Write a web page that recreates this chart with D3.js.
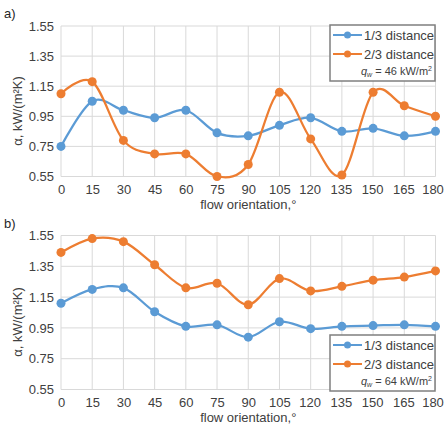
<!DOCTYPE html>
<html>
<head>
<meta charset="utf-8">
<script src="https://cdnjs.cloudflare.com/ajax/libs/d3/7.8.5/d3.min.js"></script>
<style>
  body { margin: 0; background: #fff; }
  svg { font-family: "Liberation Sans", Arial, sans-serif; }
  .grid line { stroke: #d9d9d9; stroke-width: 1; }
  .axis text { fill: #404040; font-size: 13px; }
  .axis path, .axis line { display: none; }
</style>
</head>
<body>
<div id="chart"></div>
<script>
// data
var angles = [0, 15, 30, 45, 60, 75, 90, 105, 120, 135, 150, 165, 180];
var yTicks = [0.55, 0.75, 0.95, 1.15, 1.35, 1.55];

// panel a) q_w = 46 kW/m2
var a13 = [0.75, 1.05, 0.99, 0.94, 0.99, 0.84, 0.82, 0.89, 0.94, 0.85, 0.87, 0.82, 0.85];
var a23 = [1.10, 1.18, 0.79, 0.70, 0.70, 0.55, 0.63, 1.11, 0.80, 0.56, 1.11, 1.02, 0.95];

// panel b) q_w = 64 kW/m2
var b13 = [1.11, 1.20, 1.21, 1.055, 0.96, 0.97, 0.89, 0.99, 0.945, 0.96, 0.965, 0.97, 0.96];
var b23 = [1.44, 1.53, 1.51, 1.36, 1.21, 1.24, 1.10, 1.27, 1.19, 1.22, 1.26, 1.28, 1.32];

var seriesNames = ["1/3 distance", "2/3 distance"];
var colors = ["#5b9bd5", "#ed7d31"];

var W = 445, H = 426;
var svg = d3.select('#chart').append('svg').attr('width', W).attr('height', H);

var scaleX = d3.scaleLinear().domain([0, 180]).range([61, 435.5]);

function panel(opts) {
    var scaleY = d3.scaleLinear().domain([0.55, 1.55]).range([opts.bottom, opts.top]);
    var g = svg.append('g');

    // grid
    var grid = g.append('g').attr('class', 'grid');
    grid.selectAll('.hg').data(yTicks).enter().append('line')
        .attr('x1', scaleX(0)).attr('x2', scaleX(180))
        .attr('y1', function(d) { return scaleY(d); })
        .attr('y2', function(d) { return scaleY(d); });
    grid.selectAll('.vg').data(angles).enter().append('line')
        .attr('y1', scaleY(0.55)).attr('y2', scaleY(1.55))
        .attr('x1', function(d) { return scaleX(d); })
        .attr('x2', function(d) { return scaleX(d); });

    // axes (labels only)
    var axisY = d3.axisLeft(scaleY).tickValues(yTicks).tickFormat(d3.format('.2f')).tickSize(0).tickPadding(7);
    g.append('g').attr('class', 'axis').attr('transform', 'translate(' + scaleX(0) + ',0)').call(axisY);
    var axisX = d3.axisBottom(scaleX).tickValues(angles).tickFormat(d3.format('d')).tickSize(0).tickPadding(8);
    var gx = g.append('g').attr('class', 'axis').attr('transform', 'translate(0,' + scaleY(0.55) + ')').call(axisX);
    // Excel squeezes the last label a little inside the edge
    gx.selectAll('text').attr('dx', function(d) { return d === 180 ? -3 : (d >= 120 ? -1 : 0); });

    // titles
    g.append('text').attr('x', 4).attr('y', opts.top - 8)
        .attr('font-size', 13).attr('fill', '#262626').text(opts.tag);
    g.append('text').attr('x', (scaleX(0) + scaleX(180)) / 2).attr('y', opts.bottom + 32)
        .attr('text-anchor', 'middle').attr('font-size', 13).attr('fill', '#404040')
        .text('flow orientation,°');
    g.append('text')
        .attr('transform', 'translate(22,' + opts.titleY + ') rotate(-90)')
        .attr('text-anchor', 'middle').attr('font-size', 13).attr('fill', '#404040')
        .text('α, kW/(m²K)');

    // lines and markers
    var line = d3.line()
        .x(function(d, i) { return scaleX(angles[i]); })
        .y(function(d) { return scaleY(d); })
        .curve(d3.curveCardinal.tension(0));

    opts.series.forEach(function(vals, k) {
        g.append('path').datum(vals)
            .attr('d', line).attr('fill', 'none')
            .attr('stroke', colors[k]).attr('stroke-width', 2.25);
        g.selectAll('.dot' + k).data(vals).enter().append('circle')
            .attr('cx', function(d, i) { return scaleX(angles[i]); })
            .attr('cy', function(d) { return scaleY(d); })
            .attr('r', 4.5).attr('fill', colors[k]);
    });

    // legend
    var lg = g.append('g').attr('transform', 'translate(330,' + opts.legendTop + ')');
    lg.append('rect').attr('width', 105).attr('height', 56)
        .attr('fill', '#fff').attr('stroke', '#7f7f7f').attr('stroke-width', 1.5);
    seriesNames.forEach(function(name, k) {
        var yy = 10 + k * 19;
        lg.append('line').attr('x1', 3).attr('x2', 32).attr('y1', yy).attr('y2', yy)
            .attr('stroke', colors[k]).attr('stroke-width', 2);
        lg.append('circle').attr('cx', 17.5).attr('cy', yy).attr('r', 3.5).attr('fill', colors[k]);
        lg.append('text').attr('x', 34).attr('y', yy + 4.5)
            .attr('font-size', 13).attr('fill', '#404040').text(name);
    });
    var q = lg.append('text').attr('x', 102).attr('y', 50).attr('text-anchor', 'end')
        .attr('font-size', 11).attr('fill', '#404040');
    q.append('tspan').attr('font-style', 'italic').text('q');
    q.append('tspan').attr('font-style', 'italic').attr('font-size', 7).attr('dy', 2).text('w');
    q.append('tspan').attr('dy', -2).text(' = ' + opts.q + ' kW/m');
    q.append('tspan').attr('font-size', 7).attr('dy', -4).text('2');
}

panel({tag: 'a)', top: 26, bottom: 176.5, titleY: 111, legendTop: 25, q: 46, series: [a13, a23]});
panel({tag: 'b)', top: 235.5, bottom: 389.5, titleY: 322, legendTop: 335, q: 64, series: [b13, b23]});
</script>
</body>
</html>
